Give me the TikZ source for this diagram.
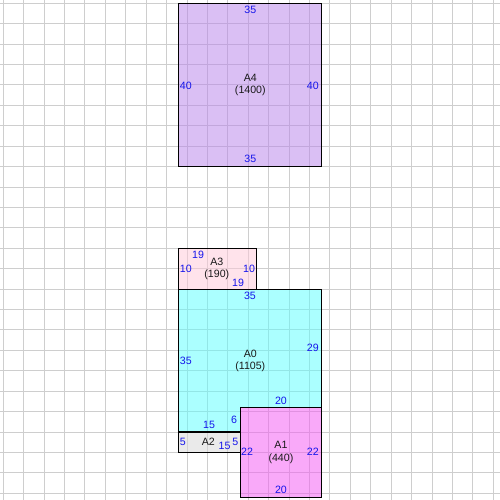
\documentclass[tikz,border=0pt]{standalone}
\usepackage{fontspec}
\setmainfont{Liberation Sans}
\definecolor{cA4}{RGB}{183,129,235}
\definecolor{cA3}{RGB}{255,201,217}
\definecolor{cA0}{RGB}{89,255,255}
\definecolor{cA1}{RGB}{245,85,245}
\definecolor{cA2}{RGB}{215,215,215}
\definecolor{gridc}{RGB}{206,206,206}
\definecolor{lblc}{RGB}{20,20,235}
\begin{document}
\begin{tikzpicture}[x=1mm,y=-1mm,
  gridline/.style={draw=gridc,line width=0.245mm},
  area/.style={fill opacity=0.5,draw=black,line width=0.8pt},
  lbl/.style={text=lblc,inner sep=0pt,font=\fontsize{7.4}{8.4}\selectfont},
  nm/.style={text=black!90,inner sep=0pt,align=center,font=\fontsize{7.4}{8.4}\selectfont}]
\useasboundingbox[fill=white] (-0.808,-0.808) rectangle (121.65,121.65);
% grid
\foreach \k in {0,5,...,120}{
  \draw[gridline] (\k,-1) -- (\k,122);
  \draw[gridline] (-1,\k) -- (122,\k);
}
% shapes
\draw[area,fill=cA4] (43,0) rectangle (78,40);
\draw[area,fill=cA3] (43,60) rectangle (62,70);
\draw[area,fill=cA0] (43,70) -- (78,70) -- (78,99) -- (58,99) -- (58,105) -- (43,105) -- cycle;
\draw[area,fill=cA1] (58,99) rectangle (78,121);
\draw[area,fill=cA2] (43,105) rectangle (58,110);
% A4
\node[nm] (nA4) at (60.5,20) {A4\\(1400)};
\node[lbl] (a4t) at (60.5,1.7) {35};
\node[lbl] (a4l) at (44.7,20.2) {40};
\node[lbl] (a4r) at (75.8,20.2) {40};
\node[lbl] (a4b) at (60.5,38.1) {35};
% A3
\node[nm] (nA3) at (52.3,65.0) {A3\\(190)};
\node[lbl] (a3t) at (47.7,61.6) {19};
\node[lbl] (a3l) at (44.7,65.1) {10};
\node[lbl] (a3r) at (60.2,65.1) {10};
\node[lbl] (a3b) at (57.5,68.5) {19};
% A0
\node[nm] (nA0) at (60.5,87.5) {A0\\(1105)};
\node[lbl] (a0t) at (60.4,71.7) {35};
\node[lbl] (a0l) at (44.7,87.6) {35};
\node[lbl] (a0r) at (75.8,84.4) {29};
\node[lbl] (a0b) at (50.4,103.3) {15};
\node[lbl] (a0i) at (56.5,102.0) {6};
\node[lbl] (a0h) at (68.0,97.4) {20};
% A1
\node[nm] (nA1) at (68,110) {A1\\(440)};
\node[lbl] (a1l) at (59.7,109.9) {22};
\node[lbl] (a1r) at (75.8,109.9) {22};
\node[lbl] (a1b) at (68,119.2) {20};
% A2
\node[nm] (nA2) at (50.2,107.4) {A2};
\node[lbl] (a2l) at (43.95,107.3) {5};
\node[lbl] (a2b) at (54.2,108.3) {15};
\node[lbl] (a2r) at (56.8,107.3) {5};
\end{tikzpicture}
\end{document}
